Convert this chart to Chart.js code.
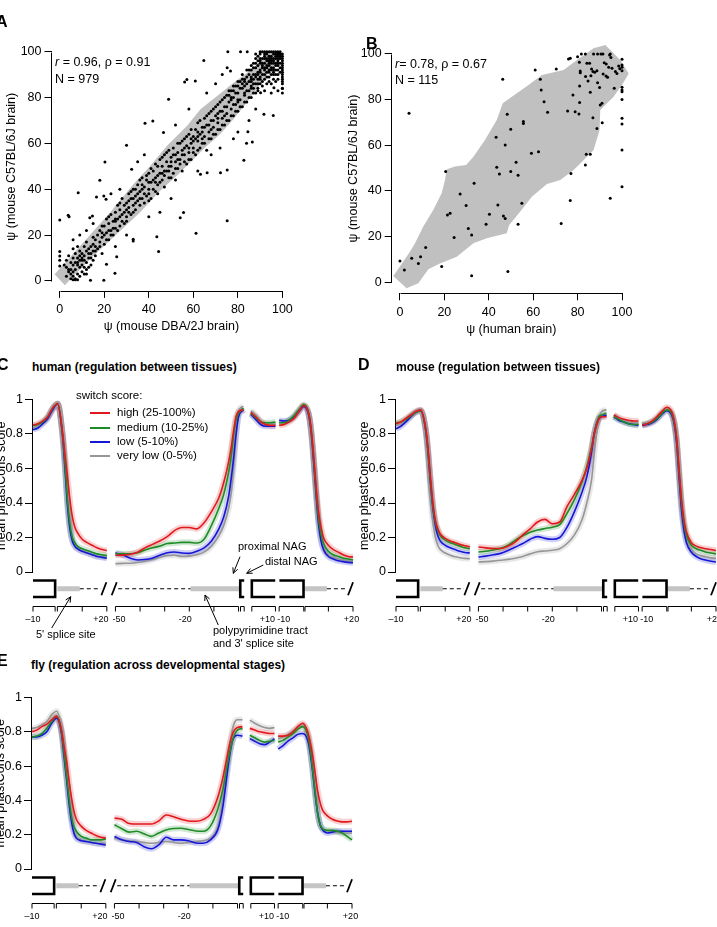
<!DOCTYPE html>
<html>
<head>
<meta charset="utf-8">
<script src="https://cdn.jsdelivr.net/npm/chart.js@4/dist/chart.umd.min.js"></script>
<style>
html,body{margin:0;padding:0;background:#fff;}
#page{position:relative;width:717px;height:927px;overflow:hidden;background:#fff;font-family:"Liberation Sans",Arial,Helvetica,sans-serif;color:#000;}
canvas{position:absolute;display:block;}
.t{position:absolute;white-space:nowrap;line-height:1;}
.pl{font-weight:bold;font-size:16px;}
.pt{font-weight:bold;font-size:12px;}
.st{font-size:12.5px;}
.lg{font-size:11.5px;}
.an{font-size:11px;}
.sw{position:absolute;height:2px;width:20px;}
</style>
</head>
<body>
<div id="page">
<canvas id="cA" width="340" height="345" style="left:0px;top:0px"></canvas>
<canvas id="cB" width="377" height="345" style="left:340px;top:0px"></canvas>
<canvas id="cC" width="366" height="265" style="left:-6px;top:390px"></canvas>
<canvas id="cD" width="366" height="265" style="left:357px;top:390px"></canvas>
<canvas id="cE" width="366" height="265" style="left:-7px;top:688px"></canvas>
</div>
<script>
const FONT = '"Liberation Sans", Arial, Helvetica, sans-serif';
Chart.defaults.font.family = FONT;
Chart.defaults.color = '#000';

/* ================= DATA: panels A and B ================= */
const psiTicks = [0, 20, 40, 60, 80, 100];

// Panel A: psi mouse DBA/2J brain (x) vs psi mouse C57BL/6J brain (y)
const pointsA = [
[5,1],[6,2],[6,4],[7,1],[7,5],[8,3],[8,7],[9,2],[9,6],[10,4],[10,9],[11,6],[11,11],[12,8],[12,3],[13,10],[13,14],[14,7],[14,12],[15,9],[15,16],[4,5],[5,8],[3,6],[6,10],[7,12],[8,10],[9,13],[10,12],[11,15],[12,17],[4,11],[3,9],[2,7],[6,14],[8,15],[5,3],[7,8],[9,9],[10,7],[11,3],[13,6],[6,0.5],[8,0.5],[7,0.5],[12,5],[14,15],[15,13],[16,11],[16,18],
[17,14],[17,20],[18,17],[18,22],[19,12],[19,19],[20,16],[20,24],[21,21],[21,27],[22,18],[22,25],[23,22],[23,29],[24,20],[24,26],[25,23],[25,30],[26,27],[26,33],[27,24],[27,31],[28,26],[28,36],[29,30],[29,25],[30,34],[30,28],[31,38],[31,32],[32,29],[32,36],[33,40],[33,33],[34,31],[34,37],[35,35],[35,42],[36,33],[36,39],[37,45],[37,36],[38,34],[38,41],[39,44],[39,37],[40,40],[40,47],[41,36],[41,43],[42,48],[42,40],[43,45],[43,51],[44,42],[44,38],[45,47],[45,53],[46,44],[46,50],[47,55],[47,41],[48,48],[48,52],[49,45],[49,57],[50,50],[50,54],[51,47],[51,58],[52,52],[52,44],[53,56],[53,49],[54,60],[54,53],[55,57],[55,48],[56,62],[56,55],[57,51],[57,59],[58,64],[58,56],[59,60],[59,53],[60,63],[60,58],[61,66],[61,55],[62,61],[62,69],[63,58],[63,64],[64,67],[64,60],[65,71],[65,63],[66,68],[66,57],[67,65],[67,73],[68,70],[68,62],[69,75],[69,67],[70,72],[70,64],[71,77],[71,69],[72,74],[72,66],[73,79],[73,71],[74,76],[74,68],[75,81],[75,73],[76,78],[76,70],[77,83],[77,75],[78,80],[78,72],[79,85],[79,77],[80,82],[80,74],[81,87],[81,79],[82,84],[82,76],[83,88],[83,81],[84,86],[84,78],[85,90],[85,83],
[20,20],[24,23],[27,28],[30,31],[33,36],[36,36],[40,43],[44,46],[47,48],[50,52],[53,53],[56,58],[59,62],[62,65],[65,67],[68,66],[71,73],[74,72],[77,79],[80,78],[83,85],[86,88],[87,84],[88,90],[89,86],[86,80],[88,82],
[15,19],[16,13],[18,15],[19,24],[21,18],[22,28],[23,20],[25,27],[26,22],[27,34],[29,33],[30,26],[31,35],[32,39],[33,30],[34,40],[35,38],[36,44],[37,42],[38,38],[39,46],[40,35],[41,49],[42,44],[43,39],[44,50],[45,43],[46,54],[47,46],[48,56],[49,48],[50,45],[51,55],[52,49],[53,60],[54,51],[55,61],[56,52],[57,63],[58,53],[59,66],[60,56],[61,62],[62,57],[63,70],[64,62],[65,60],[66,72],[67,62],[68,74],[69,64],[70,76],[71,66],[72,78],[73,68],[74,80],[75,70],[76,83],[77,72],[78,85],[79,74],[80,87],[81,76],[82,88],[83,78],[84,83],[85,80],[86,85],[87,82],[88,86],[89,84],[90,88],[91,87],[92,90],[93,89],[94,91],[95,93],[96,92],[97,94],[98,95],
[86,92],[87,95],[88,93],[88,97],[89,91],[89,94],[90,96],[90,92],[90,99],[91,94],[91,97],[91,90],[92,95],[92,98],[92,93],[93,96],[93,91],[93,99],[94,94],[94,97],[94,92],[95,95],[95,98],[95,90],[96,96],[96,93],[96,99],[97,95],[97,92],[97,97],[98,96],[98,94],[98,99],[99,97],[99,95],[99,93],[100,96],[100,94],[100,92],[100,90],[100,88],[100,98],[100,86],[100,84],[91,100],[92,100],[93,100],[94,100],[95,100],[96,100],[97,100],[98,100],[99,100],[90,100],[89,98],[88,95],[87,90],[86,89],[85,87],[87,86],[89,88],[90,89],[92,88],[94,89],[96,88],[98,90],[97,87],[95,86],[93,86],[91,85],[89,83],[92,83],[95,82],[98,83],[100,82],[96,91],[94,96],[92,97],[90,95],[98,92],
[93,97],[94,98],[95,97],[96,97],[97,98],[98,97],[99,98],[97,99],[96,95],[95,96],[94,95],[93,94],[92,92],[91,93],[90,91],[89,90],[88,89],[87,88],[86,87],[99,99],[98,98],[100,99],[100,97],[100,95],[100,93],[100,91],[100,89],[100,87],[99,91],[97,90],[95,92],[93,93],[91,95],[89,96],[87,93],[85,92],[84,89],[83,87],[82,86],[81,84],[80,85],[79,82],[78,83],[77,80],[76,81],[82,90],[84,92],[86,94],[88,99],[90,97],[92,99],[96,90],[98,88],[94,87],[90,86],[86,84],[83,82],[80,79],[78,77],[75,76],[73,74],[71,71],[69,70],[67,68],[64,65],[62,63],[60,61],[58,58],[55,55],[52,55],[49,50],[46,47],[43,43],[40,38],[37,40],[34,34],[31,30],[28,29],[25,26],[22,22],[19,21],[16,15],[13,12],[10,10],[8,8],[6,7],[4,4],[3,2],[5,5],[9,11],[11,9],[12,13],[14,10],
[0,26.6],[3.8,28.6],[4.2,28],[8.3,38.5],[0,12.8],[0,10.9],[0,9],[0,6.5],[13.8,0.3],[19.8,0.3],[13.5,27.6],[14.7,28.3],[18,43.9],[16.5,36.6],[20.3,51.9],[19.8,37],[20.8,35.6],[21,7.3],[24.8,3.3],[25.6,10.6],[30,59.2],[32.3,48.7],[33,18.2],[33,17.4],[38.3,68.8],[41.8,69.8],[43.6,19.3],[44.4,12.8],[46.6,64.7],[48.9,79.2],[54.1,27.6],[55.6,29.8],[56.1,86.8],[57.1,87.9],[60.9,87.2],[64.7,96.2],[61.2,20.8],[63.2,46.5],[66.2,47.2],[72.2,47.2],[75.2,48.4],[75.2,26.2],[75.5,100],[82.7,52.6],[83.9,60],[86.5,60.6],[84.5,65.1],[91.7,72.7],[95.9,72.2],[90.2,82.1],[96.2,84.3],[100,83.9],[75.2,93],[76.7,91.6],[81.2,100],[84.2,100],
[27,40],[23,38],[35,52],[38,55],[52,68],[58,75],[66,82],[70,86],[73,90],[62,48],[68,55],[78,62],[80,65],[85,70],[88,75],[45,30],[40,28],[50,36],[30,20],[25,15],[12,22],[9,20],[6,18],[15,25],[72,58]
];
const bandA = [[-2.3,2.9],[2.3,-1.9],[12,8],[24,18.9],[36,29.8],[45,39.2],[54,47.2],[60,53.1],[66,58.9],[72,64],[78,70.5],[84,77.8],[90,85.8],[96,93.8],[100,97.4],[98.5,99.5],[94.7,100.3],[93.2,98.8],[87.2,93],[78.2,86.5],[70.7,80.7],[63.2,74.9],[57.1,67.6],[48.1,58.9],[40.6,50.1],[33.1,42.2],[22.6,29.8],[10.5,16.7],[-2.3,2.9]];

// Panel B: psi human brain (x) vs psi mouse C57BL/6J brain (y)
const pointsB = [
[0,9.3],[2,5.4],[5.3,10.5],[8.3,8.3],[9.3,11.2],[11.6,15.3],[4.1,74],[18.8,6.9],[20.6,48.5],[21.4,29.5],[22.6,30.2],[24.4,19.6],[27.1,38.7],[29.8,33.6],[30.8,23.6],[32.3,20.7],[32.3,2.9],[33.4,43.4],[38.8,25.4],[40.3,29.8],[43.3,63.5],[43.6,50.4],[44.1,33.9],[44.8,47.4],[46.3,88.9],[46.6,29.1],[47.4,28],[47.4,60.1],[48.3,73.6],[48.6,4.7],[49.9,67],[49.9,48.5],[52.3,52.6],[53.2,46.9],[53.2,25.4],[54.9,34.6],[55.6,70.4],[55.6,69.6],[59.2,56.5],[60.9,93],[62.4,57.2],[63.2,88.9],[63.6,84.2],[64.9,79.1],[66.5,74.5],[70.4,93.4],[72.6,25.8],[75.5,75],[75.9,97.8],[76.7,98.1],[76.7,35.8],[77,47.7],[77.9,82],[78.9,74.7],[80,98.8],[80.6,73.7],[80.9,86],[80.9,78.7],[81.2,91.8],[81.2,92.6],[81.7,100],[83.5,100],[83.5,51.4],[83.9,56.1],[84.7,88.2],[85.7,56.1],[85.4,95.9],[85.7,83.2],[86.3,93.4],[86.9,92.3],[86.9,72.1],[87.2,100],[87.7,92],[88.7,92.7],[88.7,67.4],[89,87.4],[89.9,85.3],[90.2,77.7],[90.5,100],[91,78.4],[91.1,69.9],[91.4,100],[92,96.2],[92.8,90.4],[93.5,89.8],[94,94.2],[94.4,99.6],[94.7,100],[94.7,36.8],[95,98.5],[96.5,85],[97,92.3],[97.7,91.5],[98.5,94.7],[100,95.2],[100,94.2],[100,92.7],[100,85.4],[100,84.2],[100,83.5],[100,80.1],[100,71.8],[100,69.3],[100,58],[100,41.9],[92.9,95.6],[83.6,90.1],[89,100],[84.2,95.9],[100,97.7],[80.8,96.4],[91.5,91.2],[95.5,93.8],[86,90.5],[99,93.5]
];
const bandB = [[-3,2.8],[3,-2.6],[8.3,-0.4],[12.8,5.7],[18,8.3],[25.6,11.2],[33.1,17.1],[39.1,19.3],[48.1,21.5],[49.2,25.1],[54.1,30.9],[59.4,37.5],[66.2,43.1],[72.2,44.8],[78.2,49.2],[82,52.8],[87.2,58],[89.9,66.7],[90.2,75.5],[96.2,81.3],[100,86.4],[103,91.5],[99.2,97.4],[92.5,103.9],[87.2,102.5],[79.7,97.4],[73.7,93],[63.9,90.8],[57.9,86.4],[50.4,81.3],[46.3,78.4],[43.6,71.1],[38.3,62.3],[33.1,55],[29.8,51.4],[24.8,50.7],[21.1,49.5],[20.3,44.8],[18.8,39],[15,31.7],[10.5,24.4],[6.8,17.1],[4.5,13.4],[0,6.9],[-3,2.8]];

/* ================= DATA: panels C, D, E ================= */
const phastTicks = [0, 0.2, 0.4, 0.6, 0.8, 1];
const switchScores = ['high (25-100%)', 'medium (10-25%)', 'low (5-10%)', 'very low (0-5%)'];
// positions (nt) of the four profile segments
const pos5ss = [-10,-8,-6,-4,-2,0,2,3,4,5,6,7,8,10,12,14,16,18,20];
const pos3ss = [-50,-47,-44,-41,-38,-35,-32,-29,-26,-23,-20,-17,-14,-11,-8,-6,-4,-3,-2,-1,0,2];
const posExStart = [0,2,4,6,8,10];
const posExEnd = [-10,-8,-6,-4,-2,0,2,3,4,5,6,7,8,10,12,14,16,18,20];
const rulerLabels = ['\u201310', '+20', '-50', '-20', '+10', '-10', '+20'];
const rulerLabelSeg = [0, 0, 1, 1, 2, 3, 3];
const rulerLabelPos = [-10, 20, -50, -20, 10, -10, 20];

// human
const humHigh5 = [0.85,0.86,0.875,0.9,0.95,0.975,0.81,0.68,0.55,0.42,0.32,0.26,0.23,0.19,0.17,0.155,0.14,0.13,0.125];
const humMed5  = [0.85,0.855,0.87,0.9,0.95,0.975,0.8,0.63,0.42,0.28,0.2,0.17,0.15,0.135,0.125,0.115,0.105,0.1,0.095];
const humLow5  = [0.825,0.835,0.86,0.89,0.94,0.975,0.79,0.6,0.39,0.25,0.18,0.15,0.135,0.12,0.11,0.1,0.09,0.085,0.08];
const humVlow5 = [0.835,0.845,0.865,0.895,0.945,0.975,0.79,0.6,0.39,0.25,0.18,0.15,0.135,0.12,0.11,0.1,0.092,0.088,0.085];
const humHigh3 = [0.097,0.098,0.103,0.115,0.14,0.16,0.18,0.205,0.24,0.258,0.258,0.25,0.285,0.35,0.43,0.52,0.64,0.72,0.82,0.9,0.93,0.94];
const humMed3  = [0.106,0.106,0.106,0.112,0.128,0.14,0.15,0.165,0.168,0.172,0.172,0.168,0.19,0.27,0.37,0.45,0.58,0.67,0.79,0.88,0.92,0.95];
const humLow3  = [0.11,0.098,0.08,0.07,0.072,0.08,0.097,0.112,0.116,0.11,0.108,0.12,0.14,0.18,0.25,0.32,0.44,0.54,0.66,0.8,0.9,0.94];
const humVlow3 = [0.048,0.05,0.051,0.055,0.062,0.072,0.085,0.095,0.097,0.09,0.092,0.1,0.115,0.15,0.21,0.27,0.37,0.46,0.6,0.78,0.93,0.96];
const humHighS = [0.925,0.9,0.87,0.855,0.85,0.85];
const humMedS  = [0.92,0.895,0.87,0.865,0.865,0.87];
const humLowS  = [0.915,0.885,0.855,0.845,0.845,0.845];
const humVlowS = [0.935,0.91,0.875,0.86,0.86,0.86];
const humHighE = [0.85,0.855,0.87,0.89,0.93,0.965,0.92,0.83,0.68,0.5,0.35,0.26,0.2,0.155,0.13,0.115,0.1,0.09,0.087];
const humMedE  = [0.865,0.865,0.88,0.905,0.94,0.97,0.92,0.82,0.66,0.47,0.31,0.22,0.165,0.12,0.1,0.09,0.08,0.075,0.07];
const humLowE  = [0.88,0.875,0.88,0.9,0.93,0.96,0.91,0.81,0.64,0.45,0.28,0.18,0.13,0.09,0.075,0.065,0.06,0.056,0.054];
const humVlowE = [0.87,0.87,0.88,0.9,0.935,0.965,0.91,0.81,0.64,0.45,0.29,0.19,0.14,0.1,0.085,0.075,0.07,0.065,0.06];

// mouse
const musHigh5 = [0.86,0.87,0.89,0.91,0.93,0.94,0.84,0.72,0.55,0.4,0.3,0.25,0.22,0.195,0.18,0.17,0.16,0.152,0.145];
const musMed5  = [0.865,0.87,0.885,0.905,0.925,0.935,0.83,0.7,0.53,0.38,0.29,0.24,0.21,0.185,0.17,0.16,0.15,0.14,0.135];
const musLow5  = [0.83,0.845,0.87,0.9,0.925,0.935,0.83,0.7,0.52,0.37,0.27,0.21,0.18,0.155,0.14,0.13,0.12,0.113,0.11];
const musVlow5 = [0.85,0.86,0.88,0.905,0.93,0.94,0.82,0.66,0.45,0.29,0.2,0.155,0.13,0.11,0.097,0.088,0.083,0.079,0.077];
const musHigh3 = [0.145,0.14,0.136,0.136,0.15,0.175,0.215,0.25,0.29,0.305,0.28,0.29,0.38,0.45,0.53,0.6,0.72,0.8,0.85,0.89,0.9,0.9];
const musMed3  = [0.116,0.12,0.128,0.137,0.155,0.185,0.21,0.23,0.243,0.252,0.26,0.275,0.34,0.42,0.52,0.61,0.73,0.8,0.86,0.9,0.91,0.92];
const musLow3  = [0.087,0.092,0.1,0.108,0.125,0.145,0.165,0.19,0.205,0.195,0.19,0.2,0.26,0.35,0.46,0.55,0.7,0.8,0.86,0.89,0.9,0.91];
const musVlow3 = [0.058,0.06,0.063,0.068,0.073,0.08,0.09,0.105,0.117,0.122,0.126,0.135,0.165,0.215,0.3,0.4,0.54,0.68,0.8,0.9,0.93,0.94];
const musHighS = [0.91,0.895,0.885,0.88,0.875,0.875];
const musMedS  = [0.9,0.885,0.87,0.86,0.855,0.855];
const musLowS  = [0.9,0.88,0.87,0.86,0.855,0.85];
const musVlowS = [0.91,0.89,0.875,0.865,0.86,0.86];
const musHighE = [0.85,0.86,0.875,0.9,0.93,0.955,0.93,0.88,0.78,0.6,0.42,0.3,0.23,0.17,0.15,0.14,0.135,0.13,0.125];
const musMedE  = [0.855,0.86,0.87,0.89,0.92,0.94,0.92,0.87,0.77,0.58,0.4,0.28,0.21,0.155,0.135,0.125,0.115,0.11,0.105];
const musLowE  = [0.85,0.855,0.865,0.885,0.915,0.935,0.91,0.86,0.75,0.55,0.36,0.24,0.17,0.115,0.09,0.076,0.068,0.062,0.058];
const musVlowE = [0.855,0.86,0.87,0.89,0.92,0.94,0.91,0.86,0.75,0.56,0.37,0.26,0.19,0.13,0.105,0.095,0.088,0.082,0.08];

// fly
const flyHigh5 = [0.8,0.81,0.83,0.845,0.87,0.89,0.81,0.72,0.63,0.52,0.42,0.34,0.29,0.25,0.225,0.21,0.195,0.185,0.18];
const flyMed5  = [0.77,0.775,0.79,0.82,0.86,0.89,0.8,0.68,0.55,0.42,0.31,0.25,0.22,0.19,0.18,0.17,0.17,0.17,0.175];
const flyLow5  = [0.77,0.77,0.78,0.8,0.85,0.88,0.79,0.66,0.53,0.39,0.28,0.21,0.18,0.165,0.16,0.155,0.15,0.145,0.14];
const flyVlow5 = [0.82,0.825,0.84,0.86,0.9,0.92,0.82,0.69,0.55,0.41,0.3,0.23,0.19,0.17,0.16,0.155,0.15,0.15,0.15];
const flyHigh3 = [0.297,0.29,0.265,0.262,0.262,0.262,0.28,0.315,0.305,0.29,0.28,0.278,0.288,0.32,0.42,0.53,0.67,0.74,0.79,0.815,0.825,0.83];
const flyMed3  = [0.258,0.235,0.215,0.22,0.205,0.19,0.21,0.228,0.236,0.238,0.23,0.222,0.22,0.25,0.35,0.46,0.62,0.69,0.75,0.79,0.81,0.82];
const flyLow3  = [0.19,0.17,0.16,0.155,0.13,0.118,0.14,0.185,0.17,0.17,0.165,0.152,0.15,0.17,0.23,0.36,0.58,0.68,0.75,0.775,0.78,0.775];
const flyVlow3 = [0.18,0.17,0.165,0.16,0.155,0.15,0.155,0.16,0.155,0.15,0.155,0.16,0.165,0.18,0.25,0.4,0.62,0.73,0.82,0.86,0.87,0.87];
const flyHighS = [0.82,0.81,0.8,0.795,0.79,0.79];
const flyMedS  = [0.78,0.765,0.75,0.74,0.745,0.75];
const flyLowS  = [0.76,0.745,0.73,0.725,0.74,0.76];
const flyVlowS = [0.868,0.85,0.835,0.825,0.82,0.825];
const flyHighE = [0.775,0.775,0.78,0.8,0.83,0.85,0.8,0.74,0.66,0.56,0.46,0.39,0.345,0.31,0.29,0.28,0.275,0.275,0.278];
const flyMedE  = [0.74,0.75,0.77,0.79,0.815,0.83,0.78,0.7,0.58,0.45,0.33,0.26,0.235,0.225,0.225,0.22,0.21,0.19,0.17];
const flyLowE  = [0.7,0.72,0.745,0.765,0.785,0.79,0.75,0.68,0.57,0.44,0.33,0.26,0.23,0.21,0.215,0.22,0.22,0.22,0.22];
const flyVlowE = [0.76,0.77,0.785,0.805,0.825,0.84,0.79,0.71,0.59,0.45,0.33,0.26,0.235,0.225,0.22,0.215,0.21,0.21,0.21];

/* ================= LAYOUT / STYLE ================= */
const COLORS = ['rgb(226,24,28)', 'rgb(30,140,38)', 'rgb(22,22,215)', 'rgb(150,150,150)'];
const BANDS  = ['rgba(226,24,28,0.2)', 'rgba(30,140,38,0.2)', 'rgba(22,22,215,0.2)', 'rgba(150,150,150,0.22)'];
const SEG_OFF = [10, 83.5, 88.5, 110];       // composite-axis offset of each segment
const SEG_LISTS = [pos5ss, pos3ss, posExStart, posExEnd];
const GENE = {
  box:   [[0, 9, 'R'], [84.2, 85.8, 'L'], [88.9, 98.4, 'L'], [100.1, 109.9, 'R']],
  grey:  [[9.9, 19], [64, 84], [110.3, 119.4]],
  dash:  [[19, 27.6], [34.6, 64], [119.4, 127.8]],
  slash: [28.8, 33, 129]
};
const RULER = [[0, 9, [0, 9]], [9.9, 30, [9.9, 20, 30]], [33.5, 83.5, [33.5, 43.5, 53.5, 63.5, 73.5, 83.5]],
  [84.3, 85.8, [84.3, 85.8]], [88.9, 98.5, [88.9, 98.5]], [100, 110, [100, 110]], [110.5, 130, [110.5, 120, 130]]];
const LABEL_NUDGE = [0, -6, 3.5, -4, -8, 4.5, -1.5];
const ARROWS_C = [[51.7, 628, 70.7, 596.7], [218.3, 625, 205, 595], [240, 556.7, 233.3, 573.3], [263.3, 565, 246.7, 573.3]];

const page = document.getElementById('page');
function txt(html, x, cy, cls, fs) {
  const d = document.createElement('div');
  d.className = 't ' + cls; d.innerHTML = html;
  d.style.left = x + 'px'; d.style.top = (cy - 0.55 * fs) + 'px';
  page.appendChild(d);
}

/* ---------- R-style axis lines for scatter panels ---------- */
const rAxes = {
  id: 'rAxes',
  afterDraw(chart) {
    const {ctx, chartArea: a, scales: {x, y}} = chart;
    ctx.save(); ctx.strokeStyle = '#000'; ctx.lineWidth = 1;
    const by = Math.round(a.bottom) + 0.5, lx = Math.round(a.left) - 0.5;
    ctx.beginPath();
    ctx.moveTo(Math.round(x.getPixelForValue(psiTicks[0])) + 0.5, by);
    ctx.lineTo(Math.round(x.getPixelForValue(psiTicks[psiTicks.length - 1])) + 0.5, by);
    ctx.moveTo(lx, Math.round(y.getPixelForValue(psiTicks[0])) + 0.5);
    ctx.lineTo(lx, Math.round(y.getPixelForValue(psiTicks[psiTicks.length - 1])) + 0.5);
    ctx.stroke(); ctx.restore();
  }
};

function makeScatter(id, pts, poly, c) {
  const axisCommon = (min, max) => ({
    type: 'linear', min, max,
    afterBuildTicks: s => { s.ticks = psiTicks.map(v => ({value: v})); },
    grid: {drawOnChartArea: false, drawTicks: true, tickLength: 7, color: '#000', lineWidth: 1},
    border: {display: false}
  });
  const xs = Object.assign(axisCommon(c.xmin, c.xmax), {
    ticks: {font: {size: 12.5}, color: '#000', padding: c.xpad, maxRotation: 0, autoSkip: false},
    title: {display: true, text: c.xtitle, font: {size: 12.5}, color: '#000', padding: {top: 0, bottom: c.xtpad}},
    afterFit: s => { s.height = c.xh; }
  });
  const ys = Object.assign(axisCommon(c.ymin, c.ymax), {
    ticks: {font: {size: 12.5}, color: '#000', padding: 3, autoSkip: false},
    title: {display: true, text: c.ytitle, font: {size: 12.5}, color: '#000', padding: {top: c.ytpad, bottom: 0}},
    afterFit: s => { s.width = c.yw; }
  });
  return new Chart(document.getElementById(id), {
    type: 'line',
    data: {datasets: [
      {data: pts.map(p => ({x: p[0], y: p[1]})), showLine: false, pointRadius: 1.5, pointBackgroundColor: '#000',
       pointBorderWidth: 0, pointBorderColor: 'rgba(0,0,0,0)', order: 1},
      {data: poly.map(p => ({x: p[0], y: p[1]})), fill: 'shape', backgroundColor: '#c0c0c0', borderColor: 'rgba(0,0,0,0)',
       borderWidth: 1, pointRadius: 0, tension: 0, order: 2}
    ]},
    options: {
      responsive: false, animation: false, devicePixelRatio: 1, events: [],
      layout: {padding: {top: c.top, right: c.right, left: 0, bottom: 0}},
      plugins: {legend: {display: false}, tooltip: {enabled: false}},
      scales: {x: xs, y: ys}
    },
    plugins: [rAxes]
  });
}

makeScatter('cA', pointsA, bandA, {xmin: -3.7, xmax: 104, ymin: -4.35, ymax: 104, top: 42.5, right: 48.7, yw: 51.5, xh: 54.1,
  xpad: 4.6, xtpad: 10.5, ytpad: 4.5, xtitle: '\u03c8 (mouse DBA/2J brain)', ytitle: '\u03c8 (mouse C57BL/6J brain)'});
makeScatter('cB', pointsB, bandB, {xmin: -3.7, xmax: 104, ymin: -4.8, ymax: 104.5, top: 43.7, right: 86.1, yw: 51.7, xh: 51.7,
  xpad: 5.2, xtpad: 7.5, ytpad: 6.5, xtitle: '\u03c8 (human brain)', ytitle: '\u03c8 (mouse C57BL/6J brain)'});

/* ---------- profile panels ---------- */
function series(s1, s2, s3, s4) {
  const vals = [s1, s2, s3, s4], out = [];
  SEG_LISTS.forEach((p, k) => {
    if (k > 0) out.push({x: SEG_OFF[k] + p[0] - 1, y: null});
    p.forEach((q, i) => out.push({x: SEG_OFF[k] + q, y: vals[k][i]}));
  });
  return out;
}

const diagramPlugin = {
  id: 'diagram',
  afterDraw(chart, args, o) {
    const ctx = chart.ctx, a = chart.chartArea, xs = chart.scales.x;
    const X = u => xs.getPixelForValue(u);
    const b = a.bottom, yt = b + 8.5, yb = b + 25, ym = (yt + yb) / 2;
    const seg = (x0, y0, x1, y1) => { ctx.beginPath(); ctx.moveTo(x0, y0); ctx.lineTo(x1, y1); ctx.stroke(); };
    ctx.save();
    ctx.lineCap = 'butt';
    ctx.strokeStyle = '#c4c4c4'; ctx.lineWidth = 5;
    GENE.grey.forEach(([u0, u1]) => seg(X(u0), ym, X(u1), ym));
    ctx.strokeStyle = '#000'; ctx.lineWidth = 1.2; ctx.setLineDash([4, 3]);
    GENE.dash.forEach(([u0, u1]) => seg(X(u0), ym, X(u1), ym));
    ctx.setLineDash([]); ctx.lineWidth = 1.8;
    GENE.slash.forEach(u => seg(X(u) - 2.5, ym + 6.5, X(u) + 2.5, ym - 6.5));
    ctx.lineWidth = 2.6; ctx.lineJoin = 'miter';
    GENE.box.forEach(([u0, u1, side]) => {
      ctx.beginPath();
      if (side === 'R') { ctx.moveTo(X(u0), yt); ctx.lineTo(X(u1), yt); ctx.lineTo(X(u1), yb); ctx.lineTo(X(u0), yb); }
      else { ctx.moveTo(X(u1), yt); ctx.lineTo(X(u0), yt); ctx.lineTo(X(u0), yb); ctx.lineTo(X(u1), yb); }
      ctx.stroke();
    });
    ctx.lineWidth = 1;
    const ry = Math.round(b + 33.5) + 0.5, rt = ry + 5;
    RULER.forEach(([u0, u1, ticks]) => {
      ctx.beginPath(); ctx.moveTo(X(u0), ry); ctx.lineTo(X(u1), ry);
      ticks.forEach(t => { ctx.moveTo(X(t), ry); ctx.lineTo(X(t), rt); });
      ctx.stroke();
    });
    ctx.fillStyle = '#000'; ctx.font = '9px ' + FONT; ctx.textAlign = 'center'; ctx.textBaseline = 'middle';
    rulerLabels.forEach((l, i) => ctx.fillText(l, X(SEG_OFF[rulerLabelSeg[i]] + rulerLabelPos[i]) + LABEL_NUDGE[i], b + 48));
    if (o.arrows) {
      ctx.lineWidth = 1;
      ARROWS_C.forEach(([x0, y0, x1, y1]) => {
        const ax = x0 - o.offX, ay = y0 - o.offY, hx = x1 - o.offX, hy = y1 - o.offY;
        seg(ax, ay, hx, hy);
        const ang = Math.atan2(hy - ay, hx - ax);
        [0.45, -0.45].forEach(d => seg(hx, hy, hx - 6 * Math.cos(ang + d), hy - 6 * Math.sin(ang + d)));
      });
    }
    ctx.restore();
  }
};

function makeProfile(id, ser, o) {
  const ds = [];
  ser.forEach((pts, i) => {
    ds.push({data: pts, borderColor: BANDS[i], borderWidth: 6, pointRadius: 0, spanGaps: false,
      cubicInterpolationMode: 'monotone', fill: false, order: 10 + i, clip: 10});
    ds.push({data: pts, borderColor: COLORS[i], borderWidth: 1.6, pointRadius: 0, spanGaps: false,
      cubicInterpolationMode: 'monotone', fill: false, order: i, clip: 10});
  });
  return new Chart(document.getElementById(id), {
    type: 'line', data: {datasets: ds},
    options: {
      responsive: false, animation: false, devicePixelRatio: 1, events: [],
      layout: {padding: {left: 0, top: 9, right: 7, bottom: o.bottom}},
      plugins: {legend: {display: false}, tooltip: {enabled: false},
        diagram: {arrows: !!o.arrows, offX: o.offX, offY: o.offY}},
      scales: {
        x: {type: 'linear', display: false, min: -0.4, max: 130},
        y: {type: 'linear', min: 0, max: 1,
          afterBuildTicks: s => { s.ticks = phastTicks.map(v => ({value: v})); },
          ticks: {font: {size: 12.5}, color: '#000', padding: 2, autoSkip: false, callback: v => String(v)},
          grid: {drawOnChartArea: false, drawTicks: true, tickLength: 7, color: '#000', lineWidth: 1},
          border: {display: true, color: '#000', width: 1},
          title: {display: true, text: 'mean phastCons score', font: {size: 12.5}, color: '#000', padding: {top: 0, bottom: 0}},
          afterFit: s => { s.width = 38; }}
      }
    },
    plugins: [diagramPlugin]
  });
}

makeProfile('cC', [series(humHigh5, humHigh3, humHighS, humHighE), series(humMed5, humMed3, humMedS, humMedE),
  series(humLow5, humLow3, humLowS, humLowE), series(humVlow5, humVlow3, humVlowS, humVlowE)],
  {bottom: 83, arrows: true, offX: -6, offY: 390});
makeProfile('cD', [series(musHigh5, musHigh3, musHighS, musHighE), series(musMed5, musMed3, musMedS, musMedE),
  series(musLow5, musLow3, musLowS, musLowE), series(musVlow5, musVlow3, musVlowS, musVlowE)],
  {bottom: 83, arrows: false, offX: 357, offY: 390});
makeProfile('cE', [series(flyHigh5, flyHigh3, flyHighS, flyHighE), series(flyMed5, flyMed3, flyMedS, flyMedE),
  series(flyLow5, flyLow3, flyLowS, flyLowE), series(flyVlow5, flyVlow3, flyVlowS, flyVlowE)],
  {bottom: 84, arrows: false, offX: -7, offY: 688});

/* ---------- text ---------- */
txt('A', -4, 22.5, 'pl', 16);
txt('B', 366, 45, 'pl', 16);
txt('C', -3, 366, 'pl', 16);
txt('D', 358, 366, 'pl', 16);
txt('E', -3, 662, 'pl', 16);
txt('<i>r</i> = 0.96, \u03c1 = 0.91', 55, 63, 'st', 12.5);
txt('N = 979', 55, 80, 'st', 12.5);
txt('<i>r</i>= 0.78, \u03c1 = 0.67', 395, 65, 'st', 12.5);
txt('N = 115', 395, 81, 'st', 12.5);
txt('human (regulation between tissues)', 32, 368, 'pt', 12);
txt('mouse (regulation between tissues)', 396, 368, 'pt', 12);
txt('fly (regulation across developmental stages)', 31, 666, 'pt', 12);
txt('switch score:', 76, 396, 'lg', 11.5);
const LEG_Y = [413, 428, 442, 456];
switchScores.forEach((s, i) => {
  const sw = document.createElement('div'); sw.className = 'sw';
  sw.style.background = COLORS[i]; sw.style.left = '90px'; sw.style.top = (LEG_Y[i] - 1) + 'px';
  page.appendChild(sw);
  txt(s, 117, LEG_Y[i], 'lg', 11.5);
});
txt('proximal NAG', 238, 547, 'an', 11);
txt('distal NAG', 265, 562, 'an', 11);
txt("5' splice site", 36, 635, 'an', 11);
txt('polypyrimidine tract', 213, 631, 'an', 11);
txt("and 3' splice site", 213, 644, 'an', 11);
</script>
</body>
</html>
